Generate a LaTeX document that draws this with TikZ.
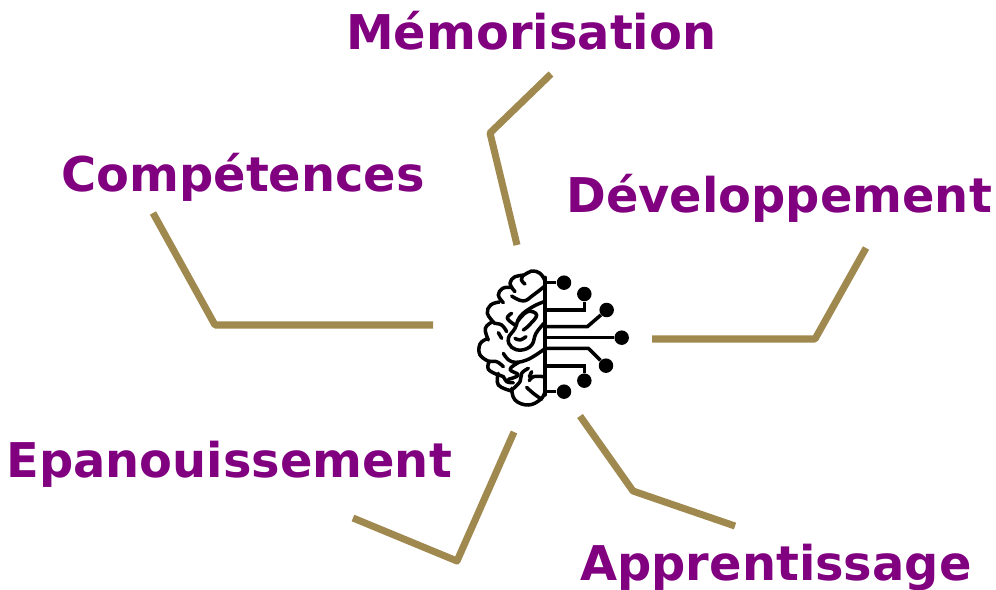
\documentclass[tikz,border=0pt]{standalone}
\usepackage{fontspec}
\setmainfont{DejaVu Sans}
\definecolor{gold}{HTML}{A0894F}
\definecolor{lab}{HTML}{800080}
\tikzset{
  lbl/.style={anchor=base west,inner sep=0pt,text=lab,font=\fontsize{27.25pt}{30pt}\selectfont\bfseries},
  branch/.style={draw=gold,line width=4pt,line join=round},
  brainline/.style={draw=black,line width=2pt,line cap=round,line join=round},
  wire/.style={draw=black,line width=2pt,line join=miter},
  dot/.style={circle,fill=black,inner sep=0pt,minimum size=0.29cm}
}
\begin{document}
\begin{tikzpicture}[x=0.02cm,y=-0.02cm]
\useasboundingbox (0,0) rectangle (996,589);
\node[lbl] (mem) at (346,49) {Mémorisation};
\node[lbl] (comp) at (61,191) {Compétences};
\node[lbl] (dev) at (566,212) {Développement};
\node[lbl] (epa) at (6,477) {Epanouissement};
\node[lbl] (app) at (580,580) {Apprentissage};
\coordinate (m1) at (551,74); \coordinate (m2) at (490,133); \coordinate (m3) at (517,245);
\coordinate (d1) at (866,248); \coordinate (d2) at (815,339); \coordinate (d3) at (652,339);
\coordinate (a1) at (580,416); \coordinate (a2) at (633,491); \coordinate (a3) at (735,526);
\coordinate (e1) at (514,432); \coordinate (e2) at (457,561); \coordinate (e3) at (353,518);
\coordinate (c1) at (153,213); \coordinate (c2) at (215,325); \coordinate (c3) at (433,325);
\draw[branch] (m1) -- (m2) -- (m3);
\draw[branch] (d1) -- (d2) -- (d3);
\draw[branch] (a1) -- (a2) -- (a3);
\draw[branch] (e1) -- (e2) -- (e3);
\draw[branch] (c1) -- (c2) -- (c3);
\begin{scope}[shift={(470,260)},x=0.006667cm,y=-0.006667cm]
\node[dot] (n1) at (282,68) {};
\node[dot] (n2) at (343,102) {};
\node[dot] (n3) at (410,150) {};
\node[dot] (n4) at (455,233) {};
\node[dot] (n5) at (408,317) {};
\node[dot] (n6) at (343,362) {};
\node[dot] (n7) at (282,395) {};
\draw[wire] (225,68) -- (n1);
\draw[wire] (225,150) -- (343,150) -- (n2);
\draw[wire] (225,200) -- (352,200) -- (n3);
\draw[wire] (225,233) -- (n4);
\draw[wire] (225,265) -- (355,265) -- (n5);
\draw[wire] (225,318) -- (343,318) -- (n6);
\draw[wire] (225,395) -- (n7);
\draw[brainline] (225,52) -- (225,405);
% outer outline
\draw[brainline] plot[smooth,tension=0.7] coordinates {(225,62) (210,40) (185,33) (162,45) (135,50) (120,70) (135,95)};
\draw[brainline] plot[smooth,tension=0.7] coordinates {(122,82) (98,85) (85,105) (100,128)};
\draw[brainline] plot[smooth,tension=0.7] coordinates {(88,126) (62,135) (52,160) (72,188)};
\draw[brainline] plot[smooth,tension=0.7] coordinates {(68,185) (46,205) (55,240)};
\draw[brainline] plot[smooth,tension=0.7] coordinates {(50,237) (30,252) (30,285) (58,305)};
\draw[brainline] plot[smooth,tension=0.7] coordinates {(58,303) (55,328) (85,345)};
\draw[brainline] plot[smooth,tension=0.7] coordinates {(85,340) (85,375) (125,393)};
\draw[brainline] plot[smooth,tension=0.7] coordinates {(125,385) (135,420) (175,435) (212,418) (225,395)};
% inner folds
\draw[brainline] plot[smooth,tension=0.7] coordinates {(160,45) (154,60) (165,72)};
\draw[brainline] plot[smooth,tension=0.7] coordinates {(222,80) (190,105) (160,123) (125,108)};
\draw[brainline] plot[smooth,tension=0.7] coordinates {(135,195) (112,175) (125,160)};
\draw[brainline] plot[smooth,tension=0.7] coordinates {(222,125) (185,142) (150,170) (135,205) (115,235) (125,262) (155,270) (185,255) (198,220) (222,190)};
\draw[brainline] plot[smooth,tension=0.7] coordinates {(142,185) (172,155) (200,165) (178,195) (160,210)};
\draw[brainline] plot[smooth,tension=0.7] coordinates {(135,235) (150,240) (168,230)};
\draw[brainline] plot[smooth,tension=0.7] coordinates {(72,190) (95,195) (110,215)};
\draw[brainline] plot[smooth,tension=0.7] coordinates {(85,218) (95,235)};
\draw[brainline] plot[smooth,tension=0.7] coordinates {(100,280) (125,305) (170,300) (222,268)};
\draw[brainline] plot[smooth,tension=0.7] coordinates {(58,305) (80,305) (100,320)};
\draw[brainline] plot[smooth,tension=0.7] coordinates {(145,308) (120,328) (145,345) (115,358)};
\draw[brainline] plot[smooth,tension=0.7] coordinates {(85,345) (100,350) (110,365) (130,368)};
\draw[brainline] plot[smooth,tension=0.7] coordinates {(175,325) (155,340) (150,365) (125,390)};
\draw[brainline] plot[smooth,tension=0.7] coordinates {(222,350) (190,350) (178,362)};
\draw[brainline] plot[smooth,tension=0.7] coordinates {(185,335) (178,350)};
\draw[brainline] plot[smooth,tension=0.7] coordinates {(170,382) (190,400) (215,418)};
\end{scope}
\end{tikzpicture}
\end{document}
